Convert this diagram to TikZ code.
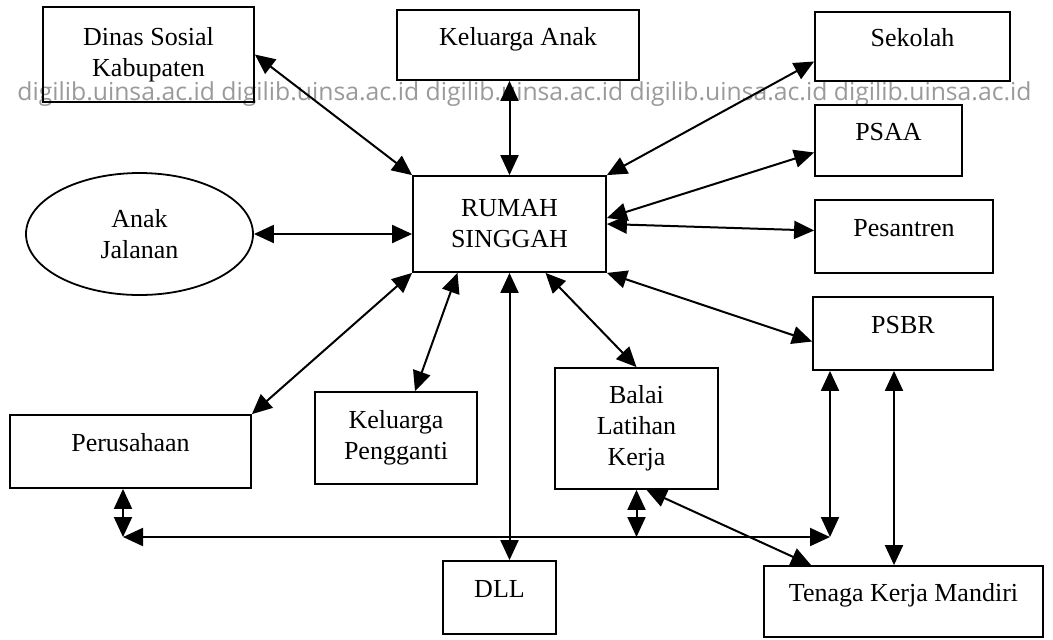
\documentclass[tikz,border=0pt]{standalone}
\usepackage{fontspec}
\setmainfont{Liberation Serif}
\newfontfamily\stampfont{Open Sans}
\usepackage{graphicx}
\usepackage{xcolor}
\usetikzlibrary{arrows.meta,shapes.geometric,positioning}
\newcommand{\boxfont}{\fontsize{13}{15.5}\selectfont}
\definecolor{stampc}{HTML}{9A9A9A}
\tikzset{
  box/.style={draw, line width=0.9pt, font=\boxfont, align=center,
    inner sep=2pt},
  topped/.style={text height=9pt, text depth=8.6pt},
  oval/.style={ellipse, draw, line width=0.9pt, font=\boxfont,
    align=center, inner sep=0pt},
  link/.style={{Triangle[length=10pt,width=9pt]}-{Triangle[length=10pt,width=9pt]},
    line width=1pt},
  stamp/.style={font=\stampfont, text=stampc, inner sep=0pt}}

\begin{document}
\begin{tikzpicture}[x=0.5pt, y=-0.5pt]
  \fill[white] (0,0) rectangle (1053,639);
  \useasboundingbox (0,0) rectangle (1053,639);
  % ---- watermark line of the scan
  \node[stamp, anchor=base west] (wm) at (17,100)
    {\resizebox{507pt}{!}{digilib.uinsa.ac.id digilib.uinsa.ac.id
     digilib.uinsa.ac.id digilib.uinsa.ac.id digilib.uinsa.ac.id}};
  % ---- the house in the middle
  \node[box, minimum width=96.5pt, minimum height=48pt] (RS) at (509.5,224)
    {RUMAH\\SINGGAH};
  % ---- top row and right column
  \node[box, minimum width=105.5pt, minimum height=47.5pt] (Dinas) at (148.5,54.5)
    {Dinas Sosial\\Kabupaten};
  \node[box, topped, minimum width=121pt, minimum height=35pt] (KelAnak) at (518,45)
    {Keluarga Anak};
  \node[box, topped, minimum width=97.5pt, minimum height=34.5pt] (Sekolah) at (912.5,46.5)
    {Sekolah};
  \node[box, topped, minimum width=73.5pt, minimum height=35.5pt] (PSAA) at (888.5,140.5)
    {PSAA};
  \node[box, topped, minimum width=89pt, minimum height=36.5pt] (Pesantren) at (904,236.5)
    {Pesantren};
  \node[box, topped, minimum width=90pt, minimum height=36.5pt] (PSBR) at (903,333.5)
    {PSBR};
  % ---- left side and bottom row
  \node[oval, minimum width=113.5pt, minimum height=61pt] (AnakJ) at (139.5,234)
    {Anak\\Jalanan};
  \node[box, topped, minimum width=120.5pt, minimum height=36.5pt] (Perus) at (130.5,451.5)
    {Perusahaan};
  \node[box, minimum width=81pt, minimum height=46pt] (KelPeng) at (396,438)
    {Keluarga\\Pengganti};
  \node[box, minimum width=81.5pt, minimum height=60.5pt] (BLK) at (636.5,428.5)
    {Balai\\Latihan\\Kerja};
  \node[box, topped, minimum width=56.5pt, minimum height=36.5pt] (DLL) at (499.5,597.5)
    {DLL};
  \node[box, topped, minimum width=139.5pt, minimum height=35.5pt] (TKM) at (903.5,601.5)
    {Tenaga Kerja Mandiri};
  % ---- links of the house
  \draw[link] (Dinas.east) -- (RS.north west);
  \draw[link] (KelAnak.south -| RS.north) -- (RS.north);
  \draw[link] (RS.north east) -- ([yshift=-7.5pt]Sekolah.west);
  \draw[link] ([yshift=3pt]RS.east) -- ([yshift=-6pt]PSAA.west);
  \draw[link] (RS.east) -- ([yshift=3pt]Pesantren.west);
  \draw[link] (RS.south east) -- ([yshift=-4pt]PSBR.west);
  \draw[link] (AnakJ.east) -- (AnakJ.east -| RS.west);
  \draw[link] (RS.south west) -- (Perus.north east);
  \draw[link] ([xshift=-26pt]RS.south) -- ([xshift=9.5pt]KelPeng.north);
  \draw[link] ([xshift=18pt]RS.south) -- (BLK.north);
  \draw[link] (RS.south) -- (RS.south |- DLL.north);
  % ---- the bus line along the bottom
  \coordinate (busL) at (123,537);
  \coordinate (busR) at (830,537);
  \draw[link] (busL) -- (busR);
  \draw[link] (busL |- Perus.south) -- (busL);
  \draw[link] (BLK.south) -- (BLK.south |- busL);
  \draw[link] (busR |- PSBR.south) -- (busR);
  % ---- links of the workers
  \draw[link] ([xshift=-4.5pt]PSBR.south) -- ([xshift=-4.5pt]PSBR.south |- TKM.north);
  \draw[link] ([xshift=5pt]BLK.south) -- ([xshift=24pt]TKM.north west);
\end{tikzpicture}
\end{document}
